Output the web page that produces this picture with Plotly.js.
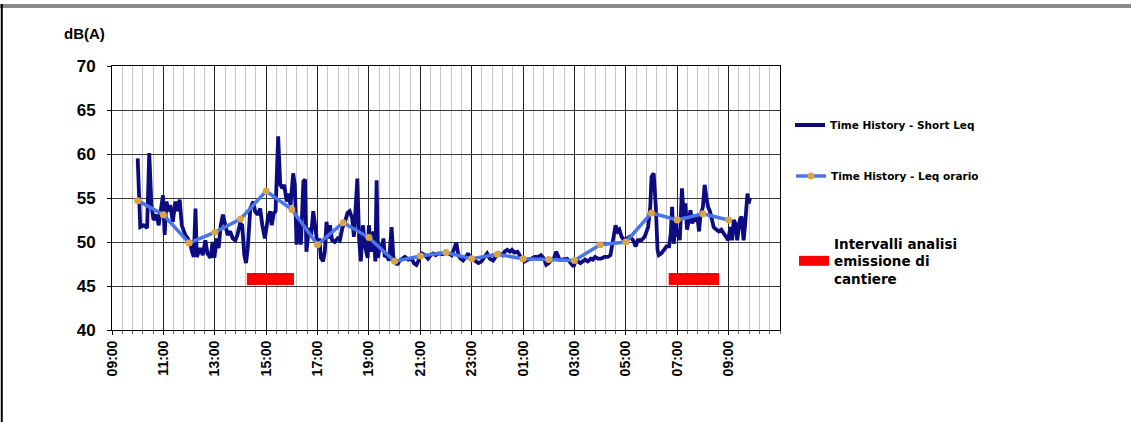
<!DOCTYPE html>
<html>
<head>
<meta charset="utf-8">
<script src="https://cdn.plot.ly/plotly-3.0.1.min.js"></script>
<style>html,body{margin:0;padding:0;background:#fff;}#chart{width:1131px;height:422px;}</style>
</head>
<body>
<div id="chart"></div>
<script>
// Short Leq time history (clock time, dB(A))
const shortTimes = ["10:00","10:06","10:14","10:22","10:27","10:32","10:37","10:44","10:49","10:54","10:59","11:03","11:07","11:12","11:16","11:22","11:28","11:32","11:38","11:43","11:47","11:51","11:57","12:03","12:07","12:11","12:15","12:18","12:26","12:32","12:38","12:43","12:50","12:55","12:59","13:05","13:09","13:14","13:19","13:24","13:30","13:36","13:42","13:48","13:53","13:59","14:04","14:09","14:13","14:17","14:23","14:30","14:34","14:40","14:46","14:51","14:57","15:04","15:09","15:13","15:18","15:22","15:28","15:33","15:38","15:42","15:48","15:52","15:57","16:03","16:07","16:11","16:17","16:21","16:27","16:31","16:34","16:40","16:45","16:50","16:55","17:00","17:04","17:08","17:13","17:17","17:21","17:25","17:29","17:34","17:40","17:47","17:52","17:58","18:04","18:10","18:15","18:21","18:25","18:29","18:33","18:37","18:41","18:46","18:52","18:57","19:00","19:06","19:11","19:15","19:18","19:21","19:26","19:30","19:34","19:37","19:41","19:47","19:53","19:57","20:01","20:06","20:12","20:19","20:24","20:32","20:40","20:45","20:51","20:55","20:59","21:03","21:11","21:18","21:24","21:30","21:36","21:42","21:47","21:53","21:59","22:05","22:13","22:18","22:24","22:29","22:34","22:40","22:46","22:52","22:57","23:03","23:10","23:16","23:23","23:30","23:36","23:42","23:50","23:56","00:04","00:12","00:17","00:23","00:29","00:34","00:40","00:47","00:52","00:57","01:04","01:11","01:19","01:27","01:35","01:42","01:49","01:54","02:00","02:06","02:12","02:17","02:21","02:25","02:31","02:37","02:43","02:48","02:54","02:58","03:02","03:08","03:14","03:20","03:25","03:31","03:38","03:43","03:48","03:55","04:02","04:10","04:18","04:24","04:27","04:30","04:33","04:36","04:41","04:45","04:50","04:56","05:03","05:09","05:17","05:23","05:28","05:36","05:44","05:52","05:57","06:00","06:05","06:10","06:14","06:17","06:23","06:28","06:35","06:41","06:45","06:48","06:52","06:56","06:59","07:02","07:06","07:11","07:15","07:19","07:23","07:27","07:31","07:35","07:39","07:43","07:47","07:51","07:54","08:00","08:04","08:08","08:12","08:17","08:21","08:25","08:29","08:33","08:37","08:43","08:48","08:54","08:59","09:04","09:08","09:12","09:16","09:20","09:26","09:30","09:35","09:38","09:41","09:44","09:47","09:50"];
const shortLeq = [59.5,51.7,51.9,51.6,60.1,54.2,52.5,53.1,51.9,53.8,55.3,50.8,54.6,53.5,54.2,52.3,54.6,53.5,54.8,51.9,51.2,50.8,50.4,49.7,48.9,48.3,53.8,48.3,49.3,48.5,50.2,48.7,48.2,50.0,48.2,50.4,49.3,51.9,53.1,51.9,50.8,51.2,50.4,50.2,50.8,52.1,51.9,48.5,47.6,49.3,53.8,54.6,53.5,53.1,53.8,51.9,50.4,52.7,53.5,51.9,53.3,53.5,62.0,56.5,56.1,56.5,54.6,55.5,54.2,57.8,56.5,49.7,52.7,49.7,56.9,57.1,48.9,51.6,50.8,53.5,51.9,49.7,50.4,48.2,47.8,48.9,52.3,50.4,51.9,50.2,50.0,50.4,50.2,51.6,52.3,53.3,53.5,52.7,50.6,53.8,57.2,50.4,47.8,51.9,49.3,48.2,51.9,48.9,51.2,47.8,57.0,48.2,49.8,49.1,50.4,48.3,48.5,47.9,51.7,48.3,47.8,47.4,47.9,48.1,48.3,48.0,48.1,47.6,47.4,47.8,48.5,48.7,48.5,48.1,48.5,48.7,48.5,48.7,48.7,48.6,48.9,48.7,48.5,49.1,49.9,48.5,48.1,47.9,48.3,48.7,48.1,48.0,47.8,47.6,47.8,48.3,48.7,48.1,47.9,48.3,48.7,48.5,48.9,49.1,48.9,49.1,48.8,48.9,48.5,48.1,47.8,48.0,48.1,48.3,48.3,48.5,48.1,47.4,47.6,48.0,48.1,48.9,48.5,48.0,48.0,48.0,48.1,47.8,47.4,47.2,47.8,47.8,47.6,47.8,48.0,47.8,48.1,48.0,48.3,48.1,48.1,48.3,48.3,48.5,49.5,50.2,51.4,51.9,51.2,51.4,50.6,50.2,50.4,50.6,50.2,49.5,50.2,50.2,50.6,51.7,54.0,57.4,57.8,54.0,49.1,48.5,48.7,49.1,49.5,49.5,51.0,54.0,49.8,52.5,50.6,51.4,50.2,56.1,52.9,54.4,51.4,52.5,53.6,52.1,52.9,52.3,52.9,51.2,52.9,54.0,56.5,55.1,54.0,53.4,52.5,51.7,51.5,51.4,51.2,51.4,51.0,50.6,50.2,51.7,50.2,52.5,52.1,50.2,52.5,52.9,50.2,51.7,54.0,55.5,54.4,55.0];

// Hourly Leq
const hourTimes = ["10:00","11:00","12:00","13:00","14:00","15:00","16:00","17:00","18:00","19:00","20:00","21:00","22:00","23:00","00:00","01:00","02:00","03:00","04:00","05:00","06:00","07:00","08:00","09:00"];
const hourLeq = [54.7,53.1,49.9,51.1,52.6,55.8,53.7,49.7,52.2,50.5,47.8,48.4,48.8,48.1,48.6,48.1,48.0,47.9,49.7,50.0,53.3,52.5,53.2,52.5];

// Construction-site analysis intervals
const intervalStart = ["14:15","06:40"];
const intervalEnd = ["16:05","08:38"];
const intervalLevel = 45.8;

// Axis tick labels (every 2 hours)
const tickLabels = ["09:00","11:00","13:00","15:00","17:00","19:00","21:00","23:00","01:00","03:00","05:00","07:00","09:00"];
const axisStart = "2020-01-01 09:00";
const axisEnd = "2020-01-02 11:00";
const yRange = [40, 70];

const names = ["Time History - Short Leq", "Time History - Leq orario", "Intervalli analisi<br>emissione di<br>cantiere"];

// clock time -> datetime (times before 10:00 belong to the following day)
function toDate(t) {
  const h = parseInt(t.slice(0,2),10);
  const day = (h < 10) ? "2020-01-02" : "2020-01-01";
  return day + " " + t;
}

// tick positions: first label is the axis start, others follow the day rule
const tickVals = tickLabels.map((t, i) => i === 0 ? axisStart : toDate(t));

const intX = [], intY = [];
intervalStart.forEach((s,i) => {
  intX.push(toDate(s), toDate(intervalEnd[i]), null);
  intY.push(intervalLevel, intervalLevel, null);
});

const FONT = "Liberation Sans, Arial, sans-serif";
const LFONT = "DejaVu Sans, Liberation Sans, sans-serif";

const traces = [
  {
    x: shortTimes.map(toDate), y: shortLeq,
    type: "scatter", mode: "lines", name: names[0],
    line: {color: "#0c0c80", width: 3.8},
    legend: "legend"
  },
  {
    x: hourTimes.map(toDate), y: hourLeq,
    type: "scatter", mode: "lines+markers", name: names[1],
    line: {color: "#4a74ea", width: 3.5},
    marker: {color: "#dba445", size: 7},
    legend: "legend2"
  },
  {
    x: intX, y: intY,
    type: "scatter", mode: "lines", name: names[2],
    line: {color: "#ff0000", width: 12},
    connectgaps: false,
    legend: "legend3"
  }
];

const legendBase = {
  xref: "container", yref: "container",
  xanchor: "left", yanchor: "middle",
  bgcolor: "rgba(0,0,0,0)", borderwidth: 0,
  itemwidth: 30, tracegroupgap: 0,
  itemclick: false
};

const layout = {
  width: 1131, height: 422,
  paper_bgcolor: "#ffffff", plot_bgcolor: "#ffffff",
  margin: {l: 112, r: 351, t: 66, b: 92},
  font: {family: FONT, color: "#000"},
  showlegend: true,
  xaxis: {
    type: "date",
    range: [axisStart, axisEnd],
    tickmode: "array", tickvals: tickVals, ticktext: tickLabels,
    tickangle: -90,
    tickfont: {family: FONT, size: 14, weight: "bold", color: "#000"},
    showgrid: true, gridcolor: "#222", gridwidth: 1,
    showline: true, linecolor: "#000", linewidth: 1, mirror: true,
    ticks: "outside", ticklen: 4, tickcolor: "#000",
    minor: {tickmode: "linear", tick0: axisStart, dtick: 1440000, showgrid: true, gridcolor: "#c4c4c4", gridwidth: 1, ticks: "outside", ticklen: 3, tickcolor: "#666"},
    zeroline: false, fixedrange: true
  },
  yaxis: {
    range: yRange, dtick: 5, tick0: 40,
    tickfont: {family: FONT, size: 17, weight: "bold", color: "#000"},
    ticklabelstandoff: 8,
    showgrid: true, gridcolor: "#3a3a3a", gridwidth: 1,
    showline: true, linecolor: "#000", linewidth: 1, mirror: true,
    ticks: "outside", ticklen: 4, tickcolor: "#000",
    zeroline: false, fixedrange: true
  },
  legend: Object.assign({}, legendBase, {x: 790/1131, y: 1 - 125/422, font: {family: LFONT, size: 10.5, weight: "bold", color: "#000"}}),
  legend2: Object.assign({}, legendBase, {x: 791/1131, y: 1 - 176/422, font: {family: LFONT, size: 10.5, weight: "bold", color: "#000"}}),
  legend3: Object.assign({}, legendBase, {x: 794/1131, y: 1 - 261/422, font: {family: LFONT, size: 13.5, weight: "bold", color: "#000"}}),
  annotations: [
    {text: "dB(A)", xref: "paper", yref: "paper", x: -0.075, y: 1.125, xanchor: "left", yanchor: "middle", showarrow: false,
     font: {family: FONT, size: 15, weight: "bold", color: "#000"}}
  ],
  shapes: [
    {type: "rect", xref: "paper", yref: "paper", x0: -0.2, x1: 1.6, y0: 1.22, y1: 1.235, line: {width: 0}, fillcolor: "#8a8a8a", layer: "above"},
    {type: "line", xref: "paper", yref: "paper", x0: -0.165, x1: -0.165, y0: -0.35, y1: 1.235, line: {color: "#000", width: 2}}
  ]
};

Plotly.newPlot("chart", traces, layout, {displayModeBar: false, staticPlot: true});
</script>
</body>
</html>
